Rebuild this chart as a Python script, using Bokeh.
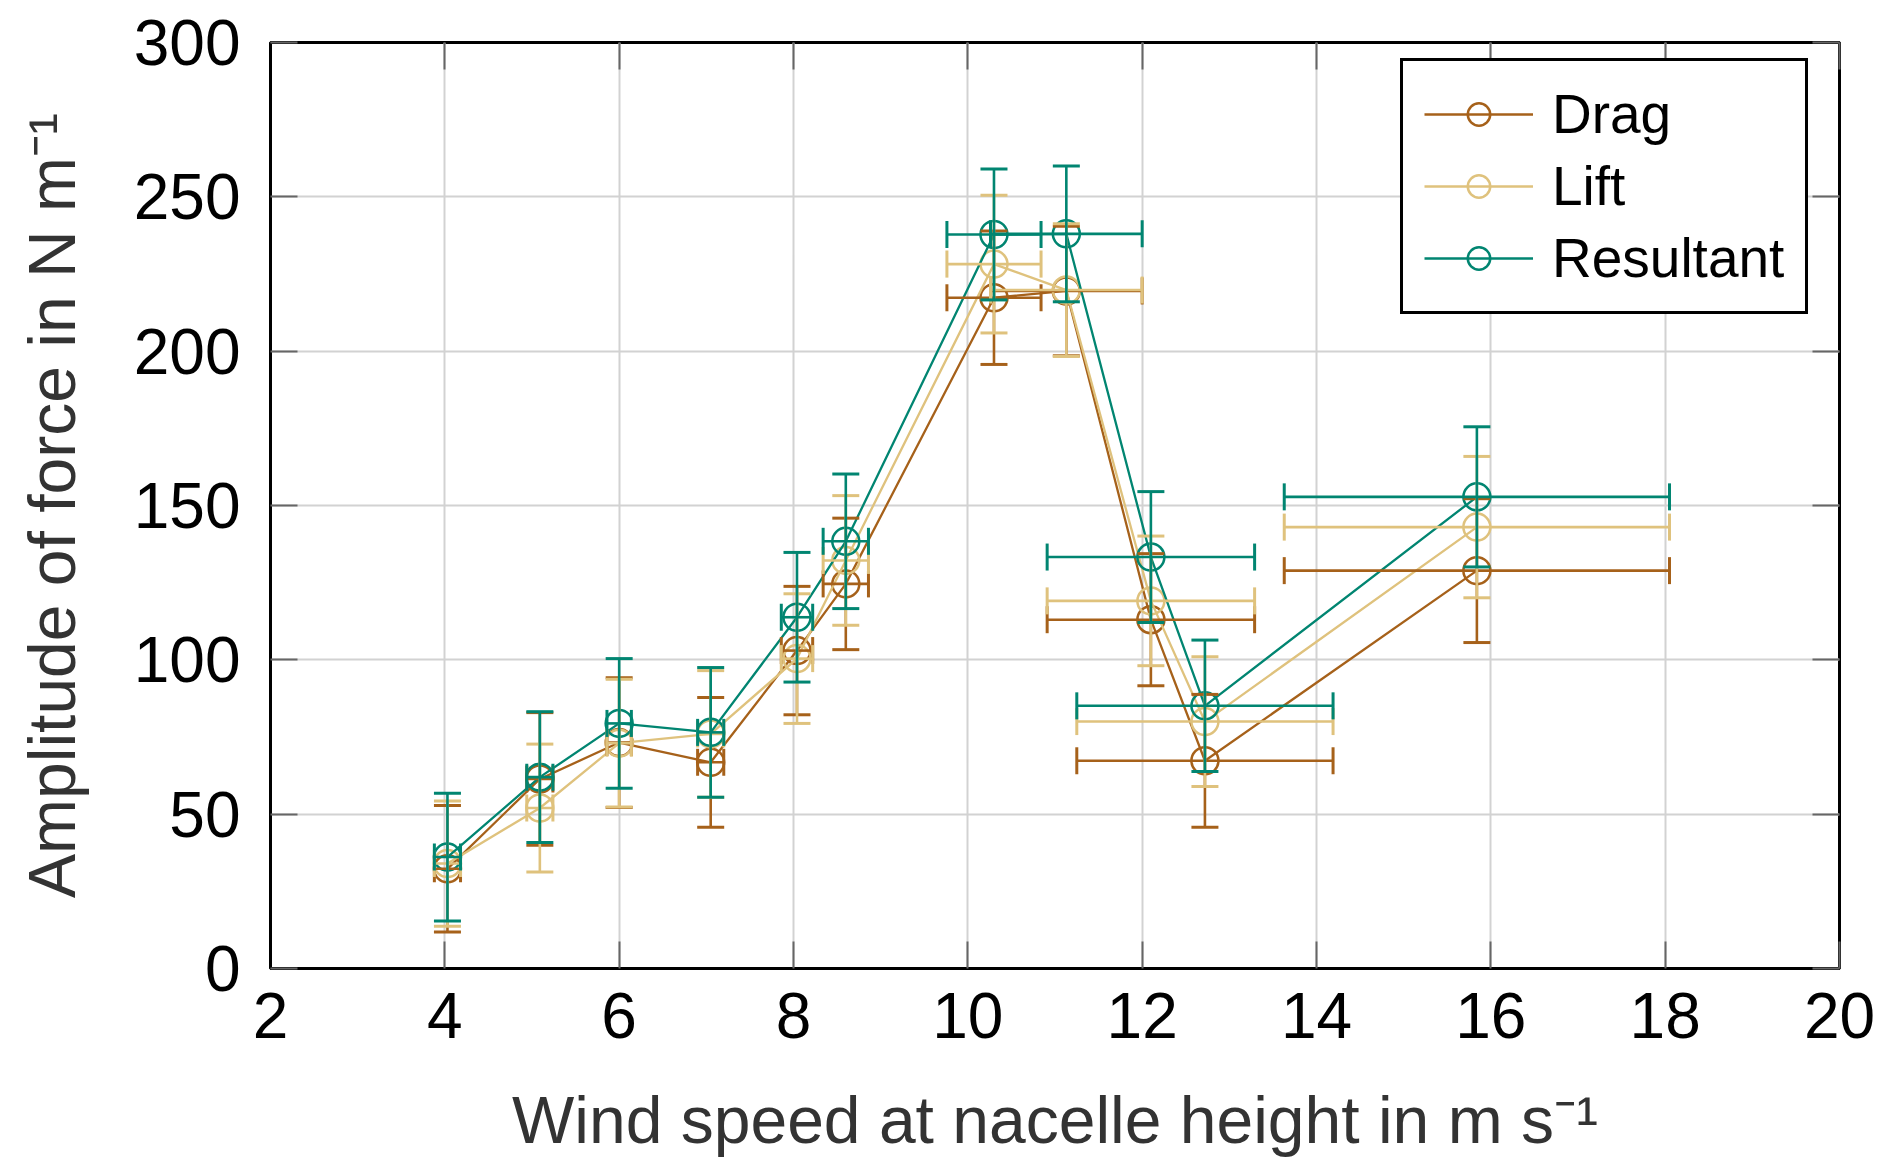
from bokeh.plotting import figure
from bokeh.models import ColumnDataSource, Whisker, TeeHead, Legend, LegendItem, LinearAxis, FixedTicker, CustomJSTickFormatter
from bokeh.embed import file_html
from bokeh.resources import INLINE

# wind speed bins (m/s) and their horizontal spread
wind = [4.03, 5.09, 6.00, 7.05, 8.04, 8.60, 10.30, 11.13, 12.10, 12.72, 15.84]
wind_err = [0.15, 0.15, 0.14, 0.15, 0.18, 0.26, 0.54, 0.87, 1.19, 1.47, 2.21]

# amplitudes of force (N/m) with standard deviation
drag = [32.3, 61.4, 73.2, 66.8, 103.0, 124.6, 217.3, 219.5, 113.0, 67.3, 128.9]
drag_err = [20.5, 21.5, 21.0, 21.0, 20.8, 21.3, 21.6, 21.0, 21.4, 21.5, 23.3]
lift = [34.0, 52.0, 73.0, 76.0, 100.4, 132.2, 228.2, 219.8, 119.1, 80.0, 143.0]
lift_err = [20.3, 20.7, 20.7, 20.5, 21.0, 21.0, 22.3, 21.5, 21.0, 21.0, 22.9]
resultant = [36.1, 62.0, 79.4, 76.5, 113.8, 138.4, 237.8, 238.0, 133.3, 85.1, 152.8]
resultant_err = [20.7, 21.2, 21.0, 21.0, 21.0, 21.8, 21.2, 22.0, 21.2, 21.3, 22.7]

x_ticks = [2, 4, 6, 8, 10, 12, 14, 16, 18, 20]
y_ticks = [0, 50, 100, 150, 200, 250, 300]

series = [("Drag", drag, drag_err, "#a6611a"),
          ("Lift", lift, lift_err, "#dfc27d"),
          ("Resultant", resultant, resultant_err, "#018571")]

FONT = "Liberation Sans"

p = figure(width=1876, height=1160, x_range=(2, 20), y_range=(0, 300),
           output_backend="svg", toolbar_location=None,
           min_border_left=270, min_border_right=37, min_border_top=42, min_border_bottom=192)

p.outline_line_color = "black"
p.outline_line_width = 3
p.outline_line_alpha = 1
p.grid.grid_line_color = "#d2d2d2"
p.grid.grid_line_width = 2
p.xaxis.ticker = FixedTicker(ticks=x_ticks)
p.yaxis.ticker = FixedTicker(ticks=y_ticks)
p.xgrid.ticker = FixedTicker(ticks=x_ticks)
p.ygrid.ticker = FixedTicker(ticks=y_ticks)

p.xaxis.axis_label = "Wind speed at nacelle height in m s\u207b\u00b9"
p.yaxis.axis_label = "Amplitude of force in N m\u207b\u00b9"

for ax in [p.xaxis[0], p.yaxis[0]]:
    ax.major_tick_in = 27
    ax.major_tick_out = 0
    ax.minor_tick_line_color = None
    ax.major_tick_line_color = "#666666"
    ax.major_tick_line_width = 2
    ax.axis_line_color = "black"
    ax.axis_line_width = 3
    ax.major_label_text_font = FONT
    ax.major_label_text_font_size = "64px"
    ax.major_label_text_color = "black"
    ax.axis_label_text_font = FONT
    ax.axis_label_text_font_size = "66px"
    ax.axis_label_text_font_style = "normal"
    ax.axis_label_text_color = "#333333"
p.xaxis.major_label_standoff = 24
p.yaxis.major_label_standoff = 30
p.xaxis.axis_label_standoff = 42
p.yaxis.axis_label_standoff = 42

# box ticks on top and right
for ticks, place in [(x_ticks, "above"), (y_ticks, "right")]:
    ax = LinearAxis(ticker=FixedTicker(ticks=ticks),
                    formatter=CustomJSTickFormatter(code="return ''"),
                    major_label_text_font_size="1px",
                    major_tick_in=27, major_tick_out=0,
                    major_tick_line_color="#666666", major_tick_line_width=2,
                    minor_tick_line_color=None, axis_line_color=None)
    p.add_layout(ax, place)

items = []
for name, vals, errs, color in series:
    src = ColumnDataSource(dict(
        x=wind, y=vals,
        xlo=[w - e for w, e in zip(wind, wind_err)],
        xhi=[w + e for w, e in zip(wind, wind_err)],
        ylo=[v - e for v, e in zip(vals, errs)],
        yhi=[v + e for v, e in zip(vals, errs)],
    ))
    vbar = Whisker(source=src, base="x", lower="ylo", upper="yhi", dimension="height",
                   line_color=color, line_width=2.6, level="glyph",
                   upper_head=TeeHead(size=27, line_color=color, line_width=3),
                   lower_head=TeeHead(size=27, line_color=color, line_width=3))
    hbar = Whisker(source=src, base="y", lower="xlo", upper="xhi", dimension="width",
                   line_color=color, line_width=2.6, level="glyph",
                   upper_head=TeeHead(size=27, line_color=color, line_width=3),
                   lower_head=TeeHead(size=27, line_color=color, line_width=3))
    p.add_layout(vbar)
    p.add_layout(hbar)
    ln = p.line("x", "y", source=src, line_color=color, line_width=2.3)
    sc = p.scatter("x", "y", source=src, marker="circle", size=27,
                   fill_color=None, line_color=color, line_width=2.5)
    items.append(LegendItem(label=name, renderers=[ln, sc]))

# legend box placed by its lower-left corner, in pixels from the frame's lower-left
legend = Legend(items=items, location=(1130, 654),
                label_text_font=FONT, label_text_font_size="55px", label_text_color="black",
                border_line_color="black", border_line_width=3, border_line_alpha=1,
                background_fill_color="white", background_fill_alpha=1,
                glyph_width=109, glyph_height=56, label_height=56, label_standoff=19,
                spacing=8, padding=21, margin=0)
p.add_layout(legend)

open("out.html", "w").write(file_html(p, INLINE))
